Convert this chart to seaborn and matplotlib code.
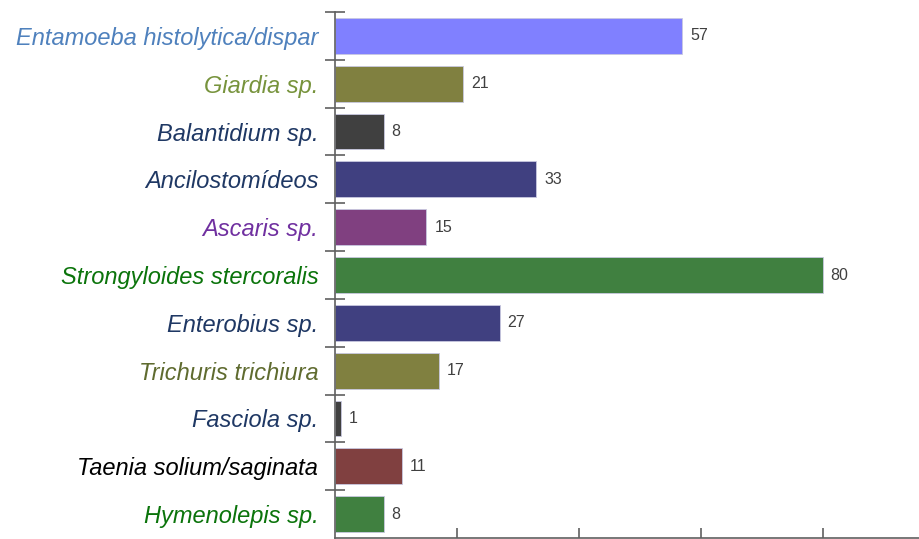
import numpy as np
import pandas as pd
import matplotlib.pyplot as plt
import seaborn as sns
from matplotlib.ticker import FixedLocator

# Dados
parasitas = ["Entamoeba histolytica/dispar", "Giardia sp.", "Balantidium sp.",
             "Ancilostomídeos", "Ascaris sp.", "Strongyloides stercoralis",
             "Enterobius sp.", "Trichuris trichiura", "Fasciola sp.",
             "Taenia solium/saginata", "Hymenolepis sp."]
casos = [57, 21, 8, 33, 15, 80, 27, 17, 1, 11, 8]
cores_barras = ["#8080FF", "#808040", "#404040", "#404080", "#804080", "#408040",
                "#404080", "#808040", "#404040", "#804040", "#408040"]
cores_rotulos = ["#4F81BD", "#77933C", "#1F3864", "#1F3864", "#7030A0", "#0B740B",
                 "#1F3864", "#5F6B2F", "#1F3864", "#000000", "#0B740B"]

df = pd.DataFrame({"parasita": parasitas, "casos": casos})

sns.set_theme(style="white")
plt.rcParams["font.family"] = ["Liberation Sans", "DejaVu Sans"]

fig = plt.figure(figsize=(9.2, 5.39), dpi=100)
ax = fig.add_axes([335 / 920, 1 - 538 / 539, (920 - 335) / 920, 526 / 539])

sns.barplot(data=df, y="parasita", x="casos", hue="parasita",
            palette=cores_barras, legend=False, orient="h", width=0.75,
            edgecolor="#c8c8e0", linewidth=0.6, saturation=1, ax=ax)

n = len(parasitas)
ax.set_xlim(0, 96)
ax.set_ylim(n - 0.5, -0.5)

# rótulos de valor
for i, v in enumerate(casos):
    ax.text(v + 1.3, i, str(v), va="center", ha="left", fontsize=11.5, color="#404040")

# rótulos das categorias em itálico e coloridos
ax.set_yticks(range(n))
ax.set_yticklabels(parasitas, fontsize=17, style="italic")
for lbl, c in zip(ax.get_yticklabels(), cores_rotulos):
    lbl.set_color(c)
ax.tick_params(axis="y", which="major", length=0, pad=12)
ax.yaxis.set_minor_locator(FixedLocator(np.arange(-0.5, n - 0.5, 1.0)))
ax.tick_params(axis="y", which="minor", direction="inout", length=15,
               width=1.2, color="#606060", left=True)

ax.set_xticks([20, 40, 60, 80])
ax.set_xticklabels([])
ax.tick_params(axis="x", which="major", direction="in", length=7,
               width=1.2, color="#606060", bottom=True)

ax.set_xlabel("")
ax.set_ylabel("")
for s in ["top", "right"]:
    ax.spines[s].set_visible(False)
for s in ["left", "bottom"]:
    ax.spines[s].set_color("#606060")
    ax.spines[s].set_linewidth(1.2)

plt.savefig("out.png", dpi=100)
plt.close()
